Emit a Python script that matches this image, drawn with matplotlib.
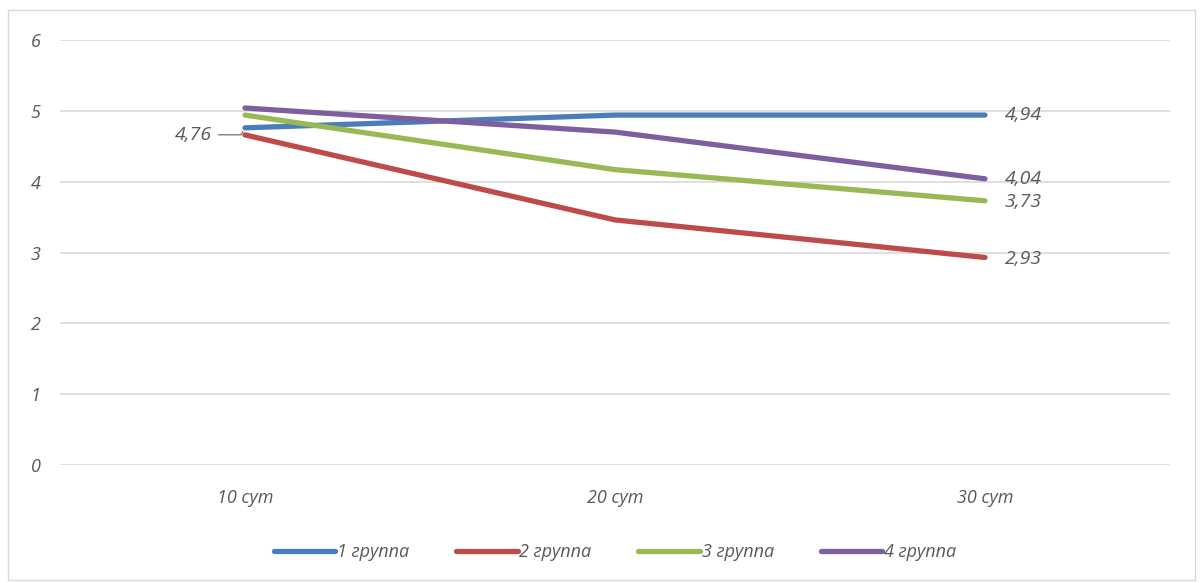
import matplotlib.pyplot as plt
from matplotlib.patches import Rectangle

categories = ["10 сут", "20 сут", "30 сут"]
group1 = [4.76, 4.94, 4.94]
group2 = [4.66, 3.46, 2.93]
group3 = [4.94, 4.17, 3.73]
group4 = [5.04, 4.70, 4.04]
names = ["1 группа", "2 группа", "3 группа", "4 группа"]
colors = ["#4a7ebb", "#be4b48", "#98b954", "#7d5fa0"]

plt.rcParams['font.family'] = ['Open Sans', 'DejaVu Sans']
plt.rcParams['font.style'] = 'italic'
txt = "#595959"

fig = plt.figure(figsize=(12.04, 5.83), dpi=100)
ax = fig.add_axes([60/1204, 1-465/583, 1110/1204, 425/583])

x = list(range(len(categories)))
for vals, name, c in zip([group1, group2, group3, group4], names, colors):
    ax.plot(x, vals, color=c, lw=3.8, label=name, solid_capstyle="round")

ax.set_xlim(-0.5, 2.5)
ax.set_ylim(0, 6)
ax.set_yticks(range(0, 7))
ax.set_xticks(x)
ax.set_xticklabels(categories)
ax.grid(axis="y", color="#d9d9d9", lw=1.2)
ax.set_axisbelow(True)
for s in ax.spines.values():
    s.set_visible(False)
ax.tick_params(length=0, colors=txt, labelsize=13)
ax.tick_params(axis="y", pad=14)
ax.tick_params(axis="x", pad=17)

# data labels
ax.annotate("4,76", xy=(x[0], group1[0]), xytext=(-24, -5), textcoords="offset points",
            ha="right", va="center", fontsize=14, color=txt,
            arrowprops=dict(arrowstyle="-", color="#7f7f7f", lw=1,
                            connectionstyle="angle,angleA=0,angleB=60,rad=0",
                            shrinkA=3, shrinkB=3))
ends = [(group1[2], 0), (group4[2], 0), (group3[2], -1), (group2[2], -1)]
for v, dy in ends:
    ax.annotate(f"{v:.2f}".replace(".", ","), xy=(x[2], v), xytext=(14, dy),
                textcoords="offset points", ha="left", va="center",
                fontsize=14, color=txt)

leg = ax.legend(loc="center", bbox_to_anchor=(0.5, -0.205), ncol=4, frameon=False,
                fontsize=13, handlelength=3.4, handletextpad=0.1, columnspacing=2.6)
for t in leg.get_texts():
    t.set_color(txt)

fig.patches.append(Rectangle((8/1204, 3/583), 1187/1204, 570/583, transform=fig.transFigure,
                             fill=False, edgecolor="#d9d9d9", lw=1))

fig.savefig("out.png", dpi=100)
